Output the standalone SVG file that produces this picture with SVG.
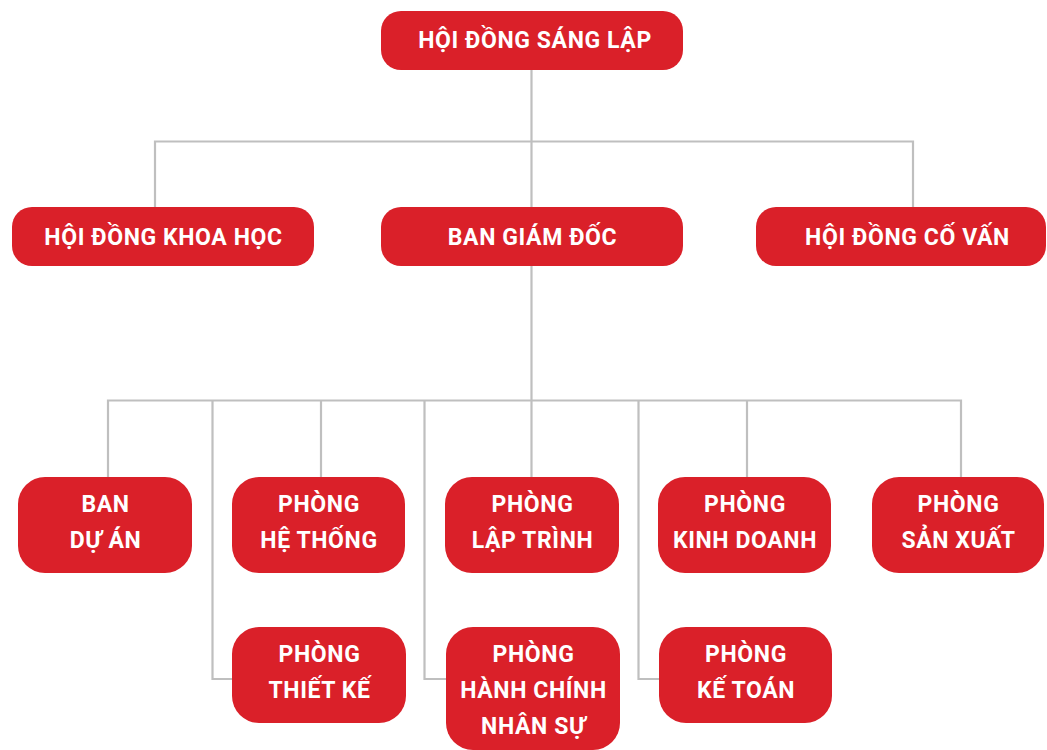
<svg xmlns="http://www.w3.org/2000/svg" width="1047" height="750" viewBox="0 0 1047 750">
<style>
.n{fill:#DA2029}
.t{font-family:Roboto,"Liberation Sans",sans-serif;font-weight:700;font-size:23px;letter-spacing:0.6px;fill:#fff;text-anchor:middle}
.c{fill:none;stroke:#BFBFBF;stroke-width:2.2}
</style>
<rect width="1047" height="750" fill="#fff"/>
<g id="connectors" class="c">
<path d="M531.5 70V477"/>
<path d="M155 207V141.5H913V207"/>
<path d="M108 477V400.5H961V477"/>
<path d="M321 400.5V477M747 400.5V477"/>
<path d="M212.5 400.5V679H233"/>
<path d="M424.5 400.5V679H446"/>
<path d="M638.5 400.5V679H659"/>
</g>
<g id="hoi-dong-sang-lap"><rect class="n" x="381" y="11" width="302" height="59" rx="20"/><text class="t" x="535" y="48">HỘI ĐỒNG SÁNG LẬP</text></g>
<g id="hoi-dong-khoa-hoc"><rect class="n" x="12" y="207" width="302" height="59" rx="20"/><text class="t" x="163.5" y="245">HỘI ĐỒNG KHOA HỌC</text></g>
<g id="ban-giam-doc"><rect class="n" x="381" y="207" width="302" height="59" rx="20"/><text class="t" x="532.5" y="245">BAN GIÁM ĐỐC</text></g>
<g id="hoi-dong-co-van"><rect class="n" x="756" y="207" width="290" height="59" rx="20"/><text class="t" x="907.5" y="245">HỘI ĐỒNG CỐ VẤN</text></g>
<g id="ban-du-an"><rect class="n" x="18" y="477" width="174" height="96" rx="27"/><text class="t" x="105.5" y="512">BAN</text><text class="t" x="105.5" y="548">DỰ ÁN</text></g>
<g id="phong-he-thong"><rect class="n" x="232" y="477" width="173" height="96" rx="27"/><text class="t" x="319" y="512">PHÒNG</text><text class="t" x="319" y="548">HỆ THỐNG</text></g>
<g id="phong-lap-trinh"><rect class="n" x="445" y="477" width="174" height="96" rx="27"/><text class="t" x="532.5" y="512">PHÒNG</text><text class="t" x="532.5" y="548">LẬP TRÌNH</text></g>
<g id="phong-kinh-doanh"><rect class="n" x="658" y="477" width="173" height="96" rx="27"/><text class="t" x="745" y="512">PHÒNG</text><text class="t" x="745" y="548">KINH DOANH</text></g>
<g id="phong-san-xuat"><rect class="n" x="872" y="477" width="172" height="96" rx="27"/><text class="t" x="958.5" y="512">PHÒNG</text><text class="t" x="958.5" y="548">SẢN XUẤT</text></g>
<g id="phong-thiet-ke"><rect class="n" x="232" y="627" width="174" height="96" rx="27"/><text class="t" x="319.5" y="662">PHÒNG</text><text class="t" x="319.5" y="698">THIẾT KẾ</text></g>
<g id="phong-hanh-chinh-nhan-su"><rect class="n" x="446" y="627" width="174" height="123" rx="27"/><text class="t" x="533.5" y="662">PHÒNG</text><text class="t" x="533.5" y="698">HÀNH CHÍNH</text><text class="t" x="533.5" y="734">NHÂN SỰ</text></g>
<g id="phong-ke-toan"><rect class="n" x="659" y="627" width="173" height="96" rx="27"/><text class="t" x="746" y="662">PHÒNG</text><text class="t" x="746" y="698">KẾ TOÁN</text></g>
</svg>
